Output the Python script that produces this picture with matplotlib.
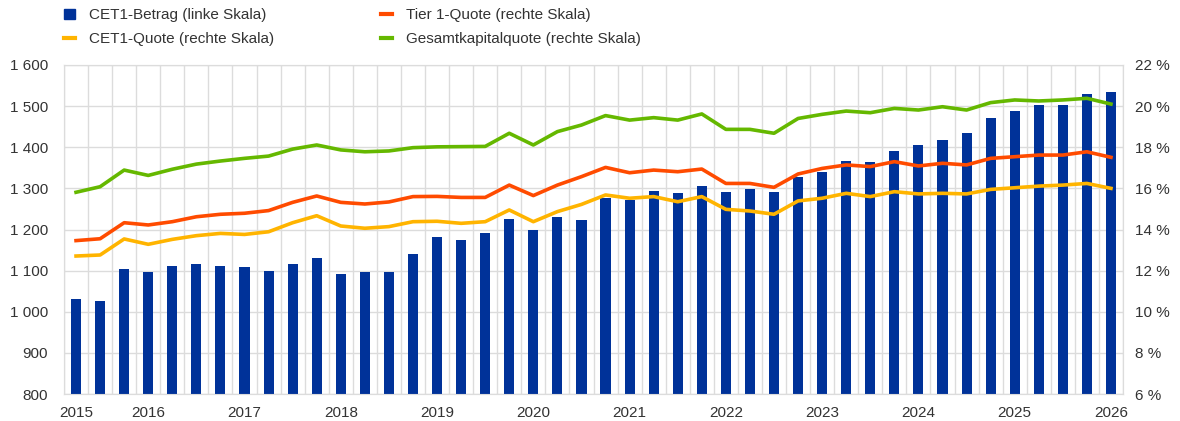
import matplotlib
matplotlib.use("Agg")
import matplotlib.pyplot as plt
from matplotlib.patches import Patch
from matplotlib.lines import Line2D
from matplotlib.ticker import FuncFormatter, MultipleLocator
import numpy as np

plt.rcParams['font.family'] = ['Liberation Sans', 'DejaVu Sans']

# quarterly observations (44 quarters)
cet1_betrag = [1030, 1027, 1104, 1096, 1112, 1116, 1112, 1109, 1099, 1116, 1130,
               1093, 1096, 1096, 1141, 1181, 1175, 1192, 1226, 1200, 1230, 1223,
               1276, 1272, 1294, 1288, 1306, 1292, 1298, 1292, 1328, 1341, 1367,
               1363, 1392, 1405, 1418, 1434, 1471, 1488, 1502, 1502, 1529, 1534]
cet1_quote = [12.71, 12.76, 13.54, 13.28, 13.52, 13.70, 13.81, 13.76, 13.89, 14.33, 14.67,
              14.17, 14.06, 14.14, 14.38, 14.40, 14.30, 14.38, 14.95, 14.38, 14.87, 15.22,
              15.68, 15.52, 15.60, 15.35, 15.60, 14.98, 14.90, 14.74, 15.39, 15.52, 15.76,
              15.60, 15.84, 15.73, 15.76, 15.73, 15.95, 16.03, 16.11, 16.16, 16.24, 16.00]
tier1_quote = [13.46, 13.55, 14.33, 14.22, 14.38, 14.62, 14.74, 14.79, 14.92, 15.32, 15.63,
               15.32, 15.24, 15.34, 15.60, 15.61, 15.56, 15.56, 16.16, 15.65, 16.16, 16.57,
               17.02, 16.76, 16.89, 16.81, 16.94, 16.24, 16.24, 16.05, 16.70, 16.97, 17.14,
               17.06, 17.30, 17.09, 17.22, 17.14, 17.46, 17.54, 17.62, 17.62, 17.78, 17.51]
gesamt_quote = [15.81, 16.08, 16.89, 16.63, 16.93, 17.18, 17.33, 17.46, 17.57, 17.91, 18.11,
                17.87, 17.78, 17.82, 17.98, 18.02, 18.03, 18.04, 18.68, 18.11, 18.76, 19.08,
                19.54, 19.32, 19.44, 19.32, 19.62, 18.87, 18.87, 18.68, 19.40, 19.60, 19.76,
                19.68, 19.89, 19.81, 19.97, 19.81, 20.17, 20.30, 20.25, 20.30, 20.38, 20.10]
year_labels = ['2015', '2016', '2017', '2018', '2019', '2020', '2021', '2022',
               '2023', '2024', '2025', '2026']
year_label_pos = [0, 3, 7, 11, 15, 19, 23, 27, 31, 35, 39, 43]

BLUE = '#003299'
YELLOW = '#FFB400'
ORANGE = '#FF4B00'
GREEN = '#65B800'
GRID = '#dcdcdc'
TXT = '#333333'
FS = 11

fig = plt.figure(figsize=(11.8, 4.21), dpi=100)
ax = fig.add_axes([64/1180, 1-394/421, (1123-64)/1180, (394-65)/421])
x = np.arange(len(cet1_betrag))
ax.bar(x, cet1_betrag, width=0.42, color=BLUE, zorder=3)
ax.set_ylim(800, 1600)
ax.set_xlim(-0.5, len(x) - 0.5)
ax.yaxis.set_major_locator(MultipleLocator(100))
ax.yaxis.set_major_formatter(FuncFormatter(lambda v, p: f"{int(v):,}".replace(',', ' ')))
ax.set_xticks(year_label_pos)
ax.set_xticklabels(year_labels)
ax.set_xticks(np.arange(-0.5, len(x), 1.0), minor=True)
ax.grid(True, which='minor', axis='x', color=GRID, linewidth=1, zorder=0)
ax.grid(True, which='major', axis='y', color=GRID, linewidth=1, zorder=0)
ax.grid(False, which='major', axis='x')
ax.set_axisbelow(True)
ax.tick_params(axis='both', which='both', length=0, labelsize=FS, colors=TXT)
ax.tick_params(axis='y', pad=11.5)
ax.tick_params(axis='x', pad=8.5)
for s in ax.spines.values():
    s.set_color(GRID)

ax2 = ax.twinx()
ax2.plot(x, cet1_quote, color=YELLOW, lw=2.6, zorder=4)
ax2.plot(x, tier1_quote, color=ORANGE, lw=2.6, zorder=4)
ax2.plot(x, gesamt_quote, color=GREEN, lw=2.6, zorder=4)
ax2.set_ylim(6, 22)
ax2.yaxis.set_major_locator(MultipleLocator(2))
ax2.yaxis.set_major_formatter(FuncFormatter(lambda v, p: f"{int(v)} %"))
ax2.tick_params(axis='y', length=0, labelsize=FS, colors=TXT, pad=8.6)
for s in ax2.spines.values():
    s.set_color(GRID)

legend_kw = dict(loc='upper left', frameon=False, fontsize=FS,
                 handlelength=0.72, handleheight=0.65, handletextpad=0.9,
                 labelspacing=0.64, borderpad=0, borderaxespad=0,
                 labelcolor=TXT)
fig.legend([Patch(facecolor=BLUE, edgecolor=BLUE), Line2D([], [], color=YELLOW, lw=3)],
           ['CET1-Betrag (linke Skala)', 'CET1-Quote (rechte Skala)'],
           bbox_to_anchor=(64/1180, 1 - 8/421), **legend_kw)
fig.legend([Line2D([], [], color=ORANGE, lw=3), Line2D([], [], color=GREEN, lw=3)],
           ['Tier 1-Quote (rechte Skala)', 'Gesamtkapitalquote (rechte Skala)'],
           bbox_to_anchor=(381/1180, 1 - 8/421), **legend_kw)

fig.savefig('out.png', dpi=100)
